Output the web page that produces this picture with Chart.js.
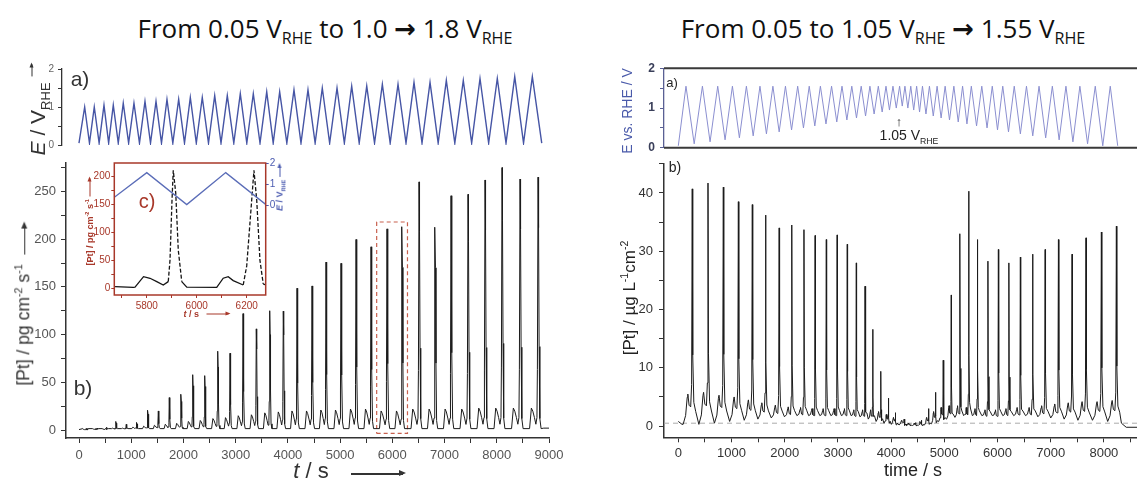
<!DOCTYPE html>
<html>
<head>
<meta charset="utf-8">
<title>Pt dissolution during potential cycling</title>
<script src="https://cdn.jsdelivr.net/npm/chart.js@4.4.1/dist/chart.umd.min.js"></script>
<style>
  body { margin: 0; width: 1137px; height: 481px; overflow: hidden; background: #fff; position: relative; font-family: "Liberation Sans", Arial, sans-serif; }
  canvas { position: absolute; }
  .lbl { position: absolute; white-space: nowrap; line-height: 1; transform: translate(-50%, -50%); }
  .rot { transform: translate(-50%, -50%) rotate(-90deg); }
  sub, sup { font-size: 62%; line-height: 0; }
  .ttl { font-family: "Open Sans", sans-serif; font-size: 26px; color: #111; }
  .arr { font-family: "DejaVu Sans", sans-serif; }
  .ar { display: inline-block; position: relative; height: 1.5px; background: currentColor; vertical-align: middle; }
  .ar::after { content: ""; position: absolute; right: -3px; top: -3px; border-left: 7px solid currentColor;
               border-top: 3.75px solid transparent; border-bottom: 3.75px solid transparent; }
  .ar.sm { height: 1px; }
  .ar.sm::after { right: -2px; top: -2px; border-left-width: 5px; border-top-width: 2.5px; border-bottom-width: 2.5px; }
</style>
</head>
<body>
<canvas id="lTop" width="560" height="100" style="left:0;top:55px"></canvas>
<canvas id="lBot" width="575" height="325" style="left:0;top:150px"></canvas>
<canvas id="inset" width="215" height="175" style="left:80px;top:150px"></canvas>
<canvas id="rTop" width="570" height="105" style="left:590px;top:55px"></canvas>
<canvas id="rBot" width="570" height="325" style="left:590px;top:150px"></canvas>

<div class="lbl ttl" style="left:325px;top:28px">From 0.05 V<sub>RHE</sub> to 1.0 <b class="arr">&#8594;</b> 1.8 V<sub>RHE</sub></div>
<div class="lbl ttl" style="left:883px;top:28px">From 0.05 to 1.05 V<sub>RHE</sub> <b class="arr">&#8594;</b> 1.55 V<sub>RHE</sub></div>

<!-- left panel labels -->
<div class="lbl rot" style="left:37px;top:110px;font-size:21px;color:#333"><i>E</i> / V<sub>RHE</sub> <span class="ar sm" style="width:12px;vertical-align:0.55em"></span></div>
<div class="lbl" style="left:80px;top:78px;font-size:21px;color:#333">a)</div>
<div class="lbl rot" style="left:24px;top:305px;font-size:17.5px;color:#333">[Pt] / pg cm<sup>-2</sup> s<sup>-1</sup> &nbsp;<span class="ar" style="width:30px"></span></div>
<div class="lbl" style="left:83px;top:387px;font-size:21px;color:#333">b)</div>
<div class="lbl" style="left:311px;top:471px;font-size:22px;color:#333"><i>t</i> / s</div>
<div class="lbl" style="left:377px;top:473px;color:#333"><span class="ar" style="width:52px"></span></div>

<!-- inset labels -->
<div class="lbl" style="left:147px;top:201px;font-size:20px;color:#a8382a">c)</div>
<div class="lbl rot" style="left:90px;top:222px;font-size:9px;color:#a8382a;font-weight:bold">[Pt] / pg cm<sup>-2</sup> s<sup>-1</sup> <span class="ar sm" style="width:18px"></span></div>
<div class="lbl rot" style="left:280px;top:188px;font-size:9px;color:#4a5ab0;font-weight:bold"><i>E</i> / V<sub>RHE</sub> <span class="ar sm" style="width:12px"></span></div>
<div class="lbl" style="left:206px;top:314px;font-size:9px;color:#a8382a;font-weight:bold"><i>t</i> / s &nbsp;&nbsp;<span class="ar sm" style="width:22px"></span></div>

<!-- right panel labels -->
<div class="lbl rot" style="left:627px;top:111px;font-size:14px;color:#4a5aaa">E vs. RHE / V</div>
<div class="lbl" style="left:672px;top:82px;font-size:13px;color:#222">a)</div>
<div class="lbl" style="left:899px;top:121px;font-size:13px;color:#222">&#8593;</div>
<div class="lbl" style="left:909px;top:135px;font-size:14px;color:#222">1.05 V<sub>RHE</sub></div>
<div class="lbl rot" style="left:629px;top:298px;font-size:17px;color:#222">[Pt] / &micro;g L<sup>-1</sup>cm<sup>-2</sup></div>
<div class="lbl" style="left:675px;top:167px;font-size:14px;color:#222">b)</div>
<div class="lbl" style="left:913px;top:470px;font-size:18px;color:#222">time / s</div>

<script>
// ---- left: upper potential raised 1.0 -> 1.8 V ----
var leftPeakT = [109,293,479,657,848,1053,1264,1475,1685,1909,2132,2361,2599,2840,3089,3338,3595,3843,4117,4385,4659,4941,5222,5510,5809,6109,6415,6722,7034,7359,7679,8010,8344,8681];
var leftUpperE = [1.0,1.0,1.05,1.05,1.1,1.1,1.15,1.15,1.2,1.2,1.25,1.25,1.3,1.3,1.35,1.35,1.4,1.4,1.45,1.45,1.5,1.5,1.55,1.55,1.6,1.6,1.65,1.65,1.7,1.7,1.75,1.75,1.8,1.8];
var leftLowerE = 0.05;
var leftEndT = 8861;

var leftSpikeT = [160,345,530,707,905,1105,1316,1519,1729,1953,2177,2407,2656,2892,3141,3395,3652,3912,4175,4462,4730,5017,5305,5592,5898,6185,6511,6817,7124,7449,7775,8100,8445,8790];
var leftSpikeV = [1.5,2,3,9,6,8,20.8,20,34,37.5,58,57,82.6,80.5,122,106,125,124.6,148.6,151,176,174.7,199.7,192,210.8,213,260,212.5,245.5,247,262,275,263,265];
var leftBumpV = [0.5,1,1,2,2,3,4,5,6,7,9,10,12,13,15,16,18,19,20,20,21,21,22,22,20,20,22,22,22,22,23,23,23,23];
var leftBaseV = 1.5;
var leftLeadT = [0], leftLeadV = [0.5];
var leftTailT = [8900, 9000], leftTailV = [2, 2];
var zoomBoxT = [5700, 6290], zoomBoxV = [-3.5, 218];

// inset c)
var insetT = [5673,5746,5753,5787,5813,5840,5866,5886,5893,5901,5906,5916,5926,5940,5960,6080,6106,6126,6146,6186,6200,6220,6229,6240,6253,6266,6276];
var insetPt = [2.9,1.8,2,20.8,17.9,11.9,5.9,11.9,50.7,158,210.8,170,68.6,11.9,2,1.5,18,20.8,13.8,5.9,40,158,210.8,158,50,8,5.9];
var insetEt = [5670,5800,5960,6116,6276];
var insetE = [0.39,1.55,0.05,1.55,0.05];

// ---- right: lower potential raised 0.05 -> 1.05 V and back ----
var rightPeakT = [144,453,741,1017,1280,1535,1778,2014,2244,2461,2671,2881,3077,3261,3438,3602,3760,3904,4035,4160,4260,4370,4480,4590,4721,4865,5016,5180,5344,5508,5705,5902,6099,6315,6545,6781,7031,7287,7549,7838,8120];
var rightUpperE = 1.55;
var rightLowerE = [0.1,0.15,0.2,0.25,0.3,0.35,0.4,0.45,0.5,0.55,0.6,0.65,0.7,0.75,0.8,0.85,0.9,0.95,1.0,1.05,
                   1.0,0.95,0.9,0.85,0.8,0.75,0.7,0.65,0.6,0.55,0.5,0.45,0.4,0.35,0.3,0.25,0.2,0.15,0.1,0.05];
var rightEndT = 8260;

var rightSpikeT = [262,558,846,1129,1391,1640,1896,2133,2362,2572,2782,2986,3176,3346,3510,3655,3806,3950,4081,4245,4355,4465,4573,4705,4836,4980,5131,5295,5459,5623,5820,6017,6214,6430,6660,6896,7146,7402,7664,7953,8235];
var rightSpikeV = [40.7,41.7,41.0,38.5,38.0,36.2,34.0,34.5,33.7,32.7,32.0,32.8,31.2,28.0,24.0,16.6,9.4,4.8,2.3,1.2,0.4,0.6,1.0,3.0,5.8,11.3,22.5,33.0,40.3,32.0,28.3,30.3,28.0,29.0,29.5,30.3,32.0,29.5,32.3,33.3,34.3];
var rightBumpV = [5.5,5.8,5.3,5.0,4.5,4.0,3.6,3.3,3.2,3.0,3.0,3.0,3.0,2.8,2.8,2.8,2.5,2.0,1.5,1.0,0.5,0.5,0.8,1.5,2.5,3.2,3.5,3.5,3.2,3.0,2.8,2.8,3.0,3.2,3.2,3.5,3.8,4.0,4.2,4.2,4.4];
var rightDipV = [0.3,0.3,0.5,0.8,1.0,1.2,1.4,1.6,1.8,1.8,1.8,1.8,1.8,1.8,1.6,1.2,0.8,0.5,0.3,0.2,0.1,0.1,0.1,0.2,0.4,0.8,1.2,1.5,1.8,1.8,1.8,1.8,1.8,1.8,1.8,1.6,1.4,1.2,1.0,1.0,0.8];
var rightLeadT = [0, 70], rightLeadV = [0.8, 0.3];
var rightTailT = [8330, 8420, 8805], rightTailV = [0.5, -0.2, -0.2];
var refLevel = 0.5;

// shape of one cycle: [fraction of cycle, x base, x bump, x spike]
var LEFT_SHAPE = [[-0.47,1,0,0],[-0.37,0,1,0],[-0.29,0,0.86,0],[-0.2,0,0.57,0],[-0.12,1,0.2,0],[-0.06,0,0.57,0],
                  [-0.035,0,0,0.24],[0,0,0,1],[0.03,0,0,0.8],[0.06,0,0,0.33],[0.1,1,0,0.04],[0.17,1,0,0]];
var RIGHT_SHAPE = [[-0.58,1,0,0],[-0.42,0.6,0.3,0],[-0.32,0,0.9,0],[-0.28,0,1,0],[-0.2,0,0.65,0],[-0.1,0,0.6,0],
                   [-0.04,0,0.7,0.08],[0,0,0,1],[0.03,0,0,0.3],[0.1,0,0,0.1],[0.22,0.6,0.2,0.03]];

function pick(v, i) { return Array.isArray(v) ? v[i] : v; }

function triangleWave(peakT, peakE, lowE, endT) {
  var pts = [{x: 0, y: 0.05}];
  for (var i = 0; i < peakT.length; i++) {
    pts.push({x: peakT[i], y: pick(peakE, i)});
    if (i < peakT.length - 1) pts.push({x: (peakT[i] + peakT[i + 1]) / 2, y: pick(lowE, i)});
  }
  pts.push({x: endT, y: 0.05});
  return pts;
}

function pairs(t, v) { return t.map(function (x, i) { return {x: x, y: v[i]}; }); }

function spikeTrace(t, spike, bump, base, shape, leadT, leadV, tailT, tailV) {
  var pts = pairs(leadT, leadV);
  for (var i = 0; i < t.length; i++) {
    var p = i > 0 ? t[i] - t[i - 1] : t[1] - t[0];
    shape.forEach(function (s) {
      pts.push({x: t[i] + s[0] * p, y: s[1] * pick(base, i) + s[2] * bump[i] + s[3] * spike[i]});
    });
  }
  return pts.concat(pairs(tailT, tailV));
}

function fixW(w) { return function (s) { s.width = w; }; }
function fixH(h) { return function (s) { s.height = h; }; }
function tickEvery(n) { return function (v) { return Math.abs(Math.round(v / n) * n - v) < 1e-6 ? v : ''; }; }
// ticks on round multiples of the step inside [min, max]
function stepTicks(step) {
  return function (s) {
    var out = [];
    for (var k = Math.ceil(s.min / step - 1e-9); k * step <= s.max + 1e-9; k++) out.push({value: Math.round(k * step * 1000) / 1000});
    s.ticks = out;
  };
}

function base(layout) {
  return {
    responsive: false, animation: false, events: [],
    layout: {padding: layout},
    plugins: {legend: {display: false}, tooltip: {enabled: false}},
    elements: {point: {radius: 0}, line: {tension: 0}}
  };
}

function axis(o) {
  return {
    type: 'linear', position: o.pos || 'left', min: o.min, max: o.max,
    afterFit: o.fit, afterBuildTicks: stepTicks(o.step),
    border: {display: o.border !== false, color: o.lineColor || '#333', width: o.bw || 1.3},
    grid: {display: true, drawOnChartArea: false, drawTicks: true, tickLength: o.tl || 5,
           color: o.tickColor || '#333'},
    ticks: {autoSkip: false, maxRotation: 0, minRotation: 0,
            padding: o.pad, color: o.color || '#555', font: {size: o.size || 13, weight: o.weight || 'normal'},
            callback: o.cb}
  };
}

Chart.defaults.font.family = '"Liberation Sans", Arial, sans-serif';

// ---------- left a) ----------
var lTop = base({top: 14, bottom: 6, right: 11});
lTop.scales = {
  x: {type: 'linear', display: false, min: -325, max: 9000},
  y: axis({min: 0, max: 2, step: 0.5, fit: fixW(62), tl: 4, pad: 4, size: 10, color: '#666', cb: tickEvery(1)})
};
new Chart(document.getElementById('lTop'), {
  type: 'line',
  data: {datasets: [{data: triangleWave(leftPeakT, leftUpperE, leftLowerE, leftEndT),
                     borderColor: '#4655a5', borderWidth: 1.4}]},
  options: lTop
});

// ---------- left b) ----------
var lBot = base({top: 11, right: 26});
lBot.scales = {
  x: axis({pos: 'bottom', min: -249, max: 9000, step: 500, fit: fixH(37), pad: 5, bw: 1.5, cb: tickEvery(1000)}),
  y: axis({min: -8.33, max: 280, step: 25, fit: fixW(66), pad: 5, bw: 1.5, cb: tickEvery(50)})
};
new Chart(document.getElementById('lBot'), {
  type: 'line',
  data: {datasets: [
    {data: spikeTrace(leftSpikeT, leftSpikeV, leftBumpV, leftBaseV, LEFT_SHAPE, leftLeadT, leftLeadV, leftTailT, leftTailV),
     borderColor: '#1c1c1c', borderWidth: 1},
    {data: [{x: zoomBoxT[0], y: zoomBoxV[0]}, {x: zoomBoxT[1], y: zoomBoxV[0]}, {x: zoomBoxT[1], y: zoomBoxV[1]},
            {x: zoomBoxT[0], y: zoomBoxV[1]}, {x: zoomBoxT[0], y: zoomBoxV[0]}],
     borderColor: '#c8604e', borderWidth: 1.2, borderDash: [4, 3]}
  ]},
  options: lBot
});

// ---------- inset c) ----------
var RED = '#a8382a', BLUE = '#4a5ab0';
var inset = base({top: 13});
inset.scales = {
  x: axis({pos: 'bottom', min: 5670, max: 6276, step: 100, fit: fixH(30), tl: 3, pad: 2, size: 10,
           color: RED, tickColor: RED, border: false, cb: tickEvery(200)}),
  y: axis({min: -12, max: 224, step: 25, fit: fixW(34.3), tl: 3, pad: 1, size: 10,
           color: RED, tickColor: RED, border: false, cb: tickEvery(50)}),
  e: axis({pos: 'right', min: -4.2, max: 2, step: 1, fit: fixW(29.3), tl: 3, pad: 1, size: 10,
           color: BLUE, border: false, cb: function (v) { return v >= 0 ? v : ''; }})
};
inset.scales.e.grid.tickColor = function (c) { return c.tick && c.tick.value < 0 ? 'rgba(0,0,0,0)' : BLUE; };
new Chart(document.getElementById('inset'), {
  type: 'line',
  data: {datasets: [
    {data: pairs(insetEt, insetE), yAxisID: 'e', borderColor: '#5b6db8', borderWidth: 1.4},
    {data: pairs(insetT, insetPt), yAxisID: 'y', borderColor: '#151515', borderWidth: 1.3,
     segment: {borderDash: function (c) { return (c.p0.parsed.y > 30 || c.p1.parsed.y > 30) ? [4, 2] : undefined; }}}
  ]},
  options: inset,
  plugins: [{
    id: 'frame',
    beforeDatasetsDraw: function (ch) {
      var a = ch.chartArea, g = ch.ctx;
      g.save(); g.fillStyle = '#fff'; g.fillRect(a.left, a.top, a.width, a.height); g.restore();
    },
    afterDraw: function (ch) {
      var a = ch.chartArea, g = ch.ctx;
      g.save(); g.strokeStyle = RED; g.lineWidth = 1.5;
      g.strokeRect(a.left, a.top, a.width, a.height); g.restore();
    }
  }]
});

// ---------- right a) ----------
var rTop = base({top: 13.3, bottom: 5.7, right: 13.3});
rTop.scales = {
  x: {type: 'linear', display: false, min: -269, max: 8805},
  y: axis({min: 0, max: 2, step: 0.5, fit: fixW(74), tl: 4, pad: 5, size: 12, weight: 'bold',
           color: '#3a3f5a', lineColor: '#5a6094', tickColor: '#5a6094', cb: tickEvery(1)})
};
new Chart(document.getElementById('rTop'), {
  type: 'line',
  data: {datasets: [{data: triangleWave(rightPeakT, rightUpperE, rightLowerE, rightEndT),
                     borderColor: '#8b8fd0', borderWidth: 1}]},
  options: rTop,
  plugins: [{
    id: 'hlines',
    afterDraw: function (ch) {
      var a = ch.chartArea, g = ch.ctx;
      g.save(); g.strokeStyle = '#3a3a3a'; g.lineWidth = 2;
      g.beginPath(); g.moveTo(a.left, a.top); g.lineTo(a.right, a.top);
      g.moveTo(a.left, a.bottom); g.lineTo(a.right, a.bottom); g.stroke(); g.restore();
    }
  }]
});

// ---------- right b) ----------
var rBot = base({top: 4.3, right: 13.3});
rBot.scales = {
  x: axis({pos: 'bottom', min: -269, max: 8805, step: 500, fit: fixH(37.7), pad: 3, color: '#333',
           bw: 1.5, cb: tickEvery(1000)}),
  y: axis({min: -1.92, max: 45, step: 5, fit: fixW(74), pad: 6, color: '#333', bw: 1.5, cb: tickEvery(10)})
};
new Chart(document.getElementById('rBot'), {
  type: 'line',
  data: {datasets: [{data: spikeTrace(rightSpikeT, rightSpikeV, rightBumpV, rightDipV, RIGHT_SHAPE,
                                      rightLeadT, rightLeadV, rightTailT, rightTailV),
                     borderColor: '#1c1c1c', borderWidth: 1}]},
  options: rBot,
  plugins: [{
    id: 'refline',
    beforeDatasetsDraw: function (ch) {
      var a = ch.chartArea, g = ch.ctx, y = ch.scales.y.getPixelForValue(refLevel);
      g.save(); g.strokeStyle = '#aaaaaa'; g.lineWidth = 1; g.setLineDash([5, 4]);
      g.beginPath(); g.moveTo(a.left, y); g.lineTo(a.right, y); g.stroke(); g.restore();
    }
  }]
});
</script>
</body>
</html>
